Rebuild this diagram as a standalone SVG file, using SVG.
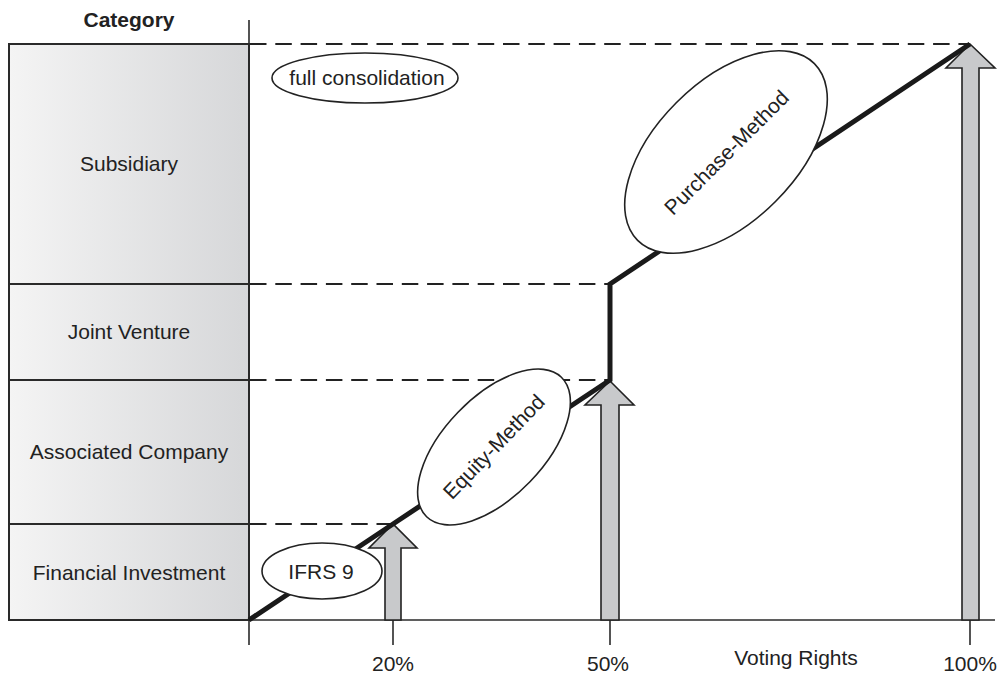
<svg xmlns="http://www.w3.org/2000/svg" width="1001" height="675" viewBox="0 0 1001 675">
  <defs>
    <linearGradient id="boxFill" x1="0" y1="0" x2="1" y2="0">
      <stop offset="0" stop-color="#f4f4f4"/>
      <stop offset="1" stop-color="#d6d7d9"/>
    </linearGradient>
    <style>
      .box { fill: url(#boxFill); stroke: #2a2a2a; stroke-width: 2; }
      .lbl { font-family: "Liberation Sans", Arial, sans-serif; font-size: 21px; fill: #222; text-anchor: middle; }
      .axis { stroke: #2a2a2a; stroke-width: 1.6; fill: none; }
      .dash { stroke: #222; stroke-width: 2; stroke-dasharray: 16.5 8.8; fill: none; }
      .path { stroke: #1a1a1a; stroke-width: 5; fill: none; stroke-linejoin: miter; }
      .arrow { fill: #c8c9cb; stroke: #222; stroke-width: 1.6; stroke-linejoin: miter; }
      .oval { fill: #fff; stroke: #222; stroke-width: 1.6; }
    </style>
  </defs>
  <rect width="1001" height="675" fill="#fff"/>

  <!-- category header -->
  <text class="lbl" x="129" y="27" font-weight="bold">Category</text>

  <!-- category boxes -->
  <g id="cat-subsidiary">
    <rect class="box" x="9" y="44" width="240" height="240"/>
    <text class="lbl" x="129" y="171">Subsidiary</text>
  </g>
  <g id="cat-joint-venture">
    <rect class="box" x="9" y="284" width="240" height="96"/>
    <text class="lbl" x="129" y="339">Joint Venture</text>
  </g>
  <g id="cat-associated">
    <rect class="box" x="9" y="380" width="240" height="144"/>
    <text class="lbl" x="129" y="459">Associated Company</text>
  </g>
  <g id="cat-financial">
    <rect class="box" x="9" y="524" width="240" height="96"/>
    <text class="lbl" x="129" y="580">Financial Investment</text>
  </g>

  <!-- axes, ticks and guide lines -->
  <g id="connectors">
    <line class="axis" x1="249" y1="20" x2="249" y2="645"/>
    <line class="axis" x1="9" y1="620" x2="995" y2="620"/>
    <line class="axis" x1="393" y1="620" x2="393" y2="645"/>
    <line class="axis" x1="610" y1="620" x2="610" y2="645"/>
    <line class="axis" x1="970" y1="620" x2="970" y2="645"/>

    <line class="dash" x1="250" y1="44" x2="970" y2="44"/>
    <line class="dash" x1="250" y1="284" x2="610" y2="284"/>
    <line class="dash" x1="250" y1="380" x2="610" y2="380"/>
    <line class="dash" x1="250" y1="524" x2="393" y2="524"/>

    <!-- threshold arrows -->
    <polygon class="arrow" points="385,620 385,548 369,548 393,524 417,548 401,548 401,620"/>
    <polygon class="arrow" points="601,620 601,405 585,405 610,381 634,405 619,405 619,620"/>
    <polygon class="arrow" points="962,620 962,68 946,68 970,44 995,68 979,68 979,620"/>

    <!-- consolidation path -->
    <polyline class="path" points="249,620 393,524 610,380 610,284 970,44"/>
  </g>

  <!-- method labels -->
  <g id="full-consolidation">
    <ellipse class="oval" cx="365" cy="78" rx="93" ry="25"/>
    <text class="lbl" x="367" y="85" font-size="22">full consolidation</text>
  </g>
  <g id="ifrs9">
    <ellipse class="oval" cx="322" cy="571" rx="60" ry="28"/>
    <text class="lbl" x="321" y="579">IFRS 9</text>
  </g>
  <g id="equity-method" transform="translate(494,447) rotate(-46)">
    <ellipse class="oval" cx="0" cy="0" rx="97" ry="50"/>
    <text class="lbl" x="0" y="7">Equity-Method</text>
  </g>
  <g id="purchase-method" transform="translate(726,152) rotate(-45)">
    <ellipse class="oval" cx="0" cy="0" rx="125" ry="70"/>
    <text class="lbl" x="0" y="8" font-size="22">Purchase-Method</text>
  </g>

  <!-- axis labels -->
  <text class="lbl" x="393" y="671">20%</text>
  <text class="lbl" x="608" y="671">50%</text>
  <text class="lbl" x="796" y="665">Voting Rights</text>
  <text class="lbl" x="970" y="671">100%</text>
</svg>
